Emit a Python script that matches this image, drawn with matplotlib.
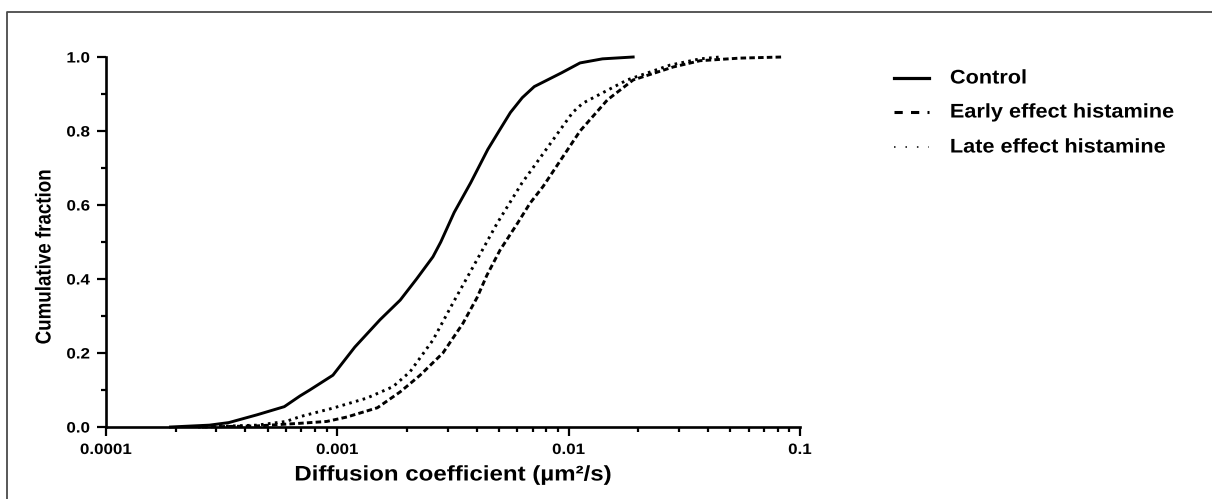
import matplotlib
matplotlib.use("Agg")
import matplotlib.pyplot as plt
from matplotlib.lines import Line2D
from matplotlib.patheffects import AbstractPathEffect
from matplotlib.transforms import Affine2D
from matplotlib.ticker import FixedLocator, FixedFormatter, NullFormatter

# ---------------- data ----------------
control_x = [1.9e-4, 2.8e-4, 3.4e-4, 4.5e-4, 5.9e-4, 6.9e-4, 7.6e-4, 9.57e-4,
             1.19e-3, 1.53e-3, 1.87e-3, 2.2e-3, 2.59e-3, 2.8e-3, 3.2e-3,
             3.77e-3, 4.47e-3, 5.0e-3, 5.6e-3, 6.3e-3, 7.1e-3, 9.3e-3,
             1.12e-2, 1.4e-2, 1.9e-2]
control_y = [0.0, 0.005, 0.012, 0.033, 0.055, 0.084, 0.10, 0.14,
             0.216, 0.29, 0.343, 0.40, 0.46, 0.50, 0.58,
             0.66, 0.75, 0.80, 0.85, 0.89, 0.92, 0.957,
             0.984, 0.995, 1.0]

early_x = [2.6e-4, 4.5e-4, 6.9e-4, 9.0e-4, 1.10e-3, 1.49e-3, 1.87e-3, 2.28e-3,
           2.86e-3, 3.49e-3, 4.02e-3, 4.43e-3, 5.05e-3, 6.0e-3, 6.81e-3,
           7.75e-3, 1.12e-2, 1.47e-2, 1.90e-2, 2.83e-2, 3.70e-2, 5.5e-2, 8.37e-2]
early_y = [0.0, 0.003, 0.010, 0.015, 0.027, 0.052, 0.095, 0.14,
           0.20, 0.28, 0.35, 0.41, 0.478, 0.55, 0.605,
           0.65, 0.80, 0.884, 0.938, 0.973, 0.99, 0.997, 1.0]

late_x = [2.5e-4, 4.5e-4, 6.0e-4, 6.9e-4, 9.57e-4, 1.34e-3, 1.74e-3, 2.06e-3,
          2.59e-3, 3.16e-3, 4.0e-3, 4.9e-3, 6.29e-3, 7.0e-3, 1.04e-2,
          1.15e-2, 1.79e-2, 2.74e-2, 3.7e-2, 4.5e-2]
late_y = [0.0, 0.005, 0.015, 0.028, 0.051, 0.078, 0.109, 0.149,
          0.235, 0.335, 0.45, 0.55, 0.66, 0.70, 0.85,
          0.875, 0.938, 0.978, 0.995, 1.0]

series_labels = ["Control", "Early effect histamine", "Late effect histamine"]

x_major_ticks = [1e-4, 1e-3, 1e-2, 1e-1]
x_major_labels = ["0.0001", "0.001", "0.01", "0.1"]
y_major_ticks = [0.0, 0.2, 0.4, 0.6, 0.8, 1.0]
y_major_labels = ["0.0", "0.2", "0.4", "0.6", "0.8", "1.0"]
y_minor_ticks = [0.1, 0.3, 0.5, 0.7, 0.9]
x_minor_ticks = [m * d for d in (1e-4, 1e-3, 1e-2) for m in range(2, 10)]

x_label = "Diffusion coefficient (µm²/s)"
y_label = "Cumulative fraction"


# ---------------- helpers ----------------
class Stretch(AbstractPathEffect):
    """Draw text glyphs widened along one direction (the reference image is
    horizontally stretched), scaled about an anchor inside the text's extent."""

    def __init__(self, sx=1.0, sy=1.0, anchor_x=0.5, anchor_y=0.5):
        super().__init__()
        self.sx, self.sy = sx, sy
        self.axr, self.ayr = anchor_x, anchor_y

    def draw_path(self, renderer, gc, tpath, affine, rgbFace=None):
        ext = tpath.get_extents()
        cx = ext.x0 + self.axr * (ext.x1 - ext.x0)
        cy = ext.y0 + self.ayr * (ext.y1 - ext.y0)
        t = (Affine2D().translate(-cx, -cy).scale(self.sx, self.sy)
             .translate(cx, cy))
        renderer.draw_path(gc, tpath, t + affine, rgbFace)


SX = 1.13

W, H, DPI = 1212, 499, 100
plt.rcParams['font.family'] = ['Liberation Sans', 'DejaVu Sans']
plt.rcParams['font.weight'] = 'bold'

fig = plt.figure(figsize=(W / DPI, H / DPI), dpi=DPI)
fig.patch.set_facecolor('white')


def fx(px):
    return px / W


def fy(py):
    return 1 - py / H


# outer frame (left and top edges visible)
fig.add_artist(Line2D([fx(7), fx(7), 1.0], [0.0, fy(12), fy(12)],
                      transform=fig.transFigure, color='#4a4a4a', lw=1.3))

ax = fig.add_axes([fx(106), fy(427), fx(800) - fx(106), fy(57) - fy(427)])
ax.set_xscale('log')
ax.set_xlim(1e-4, 1e-1)
ax.set_ylim(0, 1)

LW = 2.1
ax.plot(control_x, control_y, color='black', lw=LW,
        clip_on=False, label=series_labels[0])
ax.plot(early_x, early_y, color='black', lw=LW, linestyle=(0, (1.9, 1.1)),
        dash_capstyle='butt', clip_on=False, label=series_labels[1])
ax.plot(late_x, late_y, color='black', lw=LW, linestyle=(0, (0.9, 1.5)),
        dash_capstyle='butt', clip_on=False, label=series_labels[2])

for s in ('top', 'right'):
    ax.spines[s].set_visible(False)
for s in ('left', 'bottom'):
    ax.spines[s].set_linewidth(1.9)
    ax.spines[s].set_color('black')
    ax.spines[s].set_capstyle('projecting')

ax.xaxis.set_major_locator(FixedLocator(x_major_ticks))
ax.xaxis.set_major_formatter(FixedFormatter(x_major_labels))
ax.xaxis.set_minor_locator(FixedLocator(x_minor_ticks))
ax.xaxis.set_minor_formatter(NullFormatter())
ax.yaxis.set_major_locator(FixedLocator(y_major_ticks))
ax.yaxis.set_major_formatter(FixedFormatter(y_major_labels))
ax.yaxis.set_minor_locator(FixedLocator(y_minor_ticks))
ax.yaxis.set_minor_formatter(NullFormatter())

ax.tick_params(which='major', direction='out', length=6.5, width=1.6,
               labelsize=10.8, color='black')
ax.tick_params(which='minor', direction='out', length=3.8, width=1.6,
               color='black')
ax.tick_params(axis='y', which='major', pad=5)
ax.tick_params(axis='x', which='major', pad=5)
for lab in ax.get_xticklabels():
    lab.set_fontweight('bold')
    lab.set_path_effects([Stretch(sx=SX, anchor_x=0.5)])
for lab in ax.get_yticklabels():
    lab.set_fontweight('bold')
    lab.set_path_effects([Stretch(sx=SX, anchor_x=1.0)])

ax.set_xlabel(x_label, fontsize=15.2, fontweight='bold')
ax.xaxis.set_label_coords(0.5, -(475 - 427) / 370)
ax.xaxis.label.set_va('center')
ax.xaxis.label.set_path_effects([Stretch(sx=1.14, anchor_x=0.5)])
ax.set_ylabel(y_label, fontsize=13.5, fontweight='bold')
ax.yaxis.set_label_coords((45 - 106) / 694, (427 - 257) / 370)
ax.yaxis.label.set_va('center')
ax.yaxis.label.set_path_effects([Stretch(sy=1.15, anchor_y=0.5)])

# ---------------- legend (drawn manually to match placement) ----------------
legend_rows = [78, 112, 147]
handle_styles = [
    dict(lw=2.3, linestyle='-'),
    dict(lw=2.2, linestyle=(0, (2.7, 2.7)), dash_capstyle='butt'),
    dict(lw=1.1, linestyle=(0, (1.0, 6.5)), dash_capstyle='butt'),
]
for label, py, st in zip(series_labels, legend_rows, handle_styles):
    fig.add_artist(Line2D([fx(894), fx(929)], [fy(py), fy(py)],
                          transform=fig.transFigure, color='black', **st))
    t = fig.text(fx(950), fy(py), label, fontsize=14.2, fontweight='bold',
                 ha='left', va='center', color='black')
    t.set_path_effects([Stretch(sx=1.1, anchor_x=0.0)])

fig.savefig('out.png', dpi=DPI, facecolor='white')
